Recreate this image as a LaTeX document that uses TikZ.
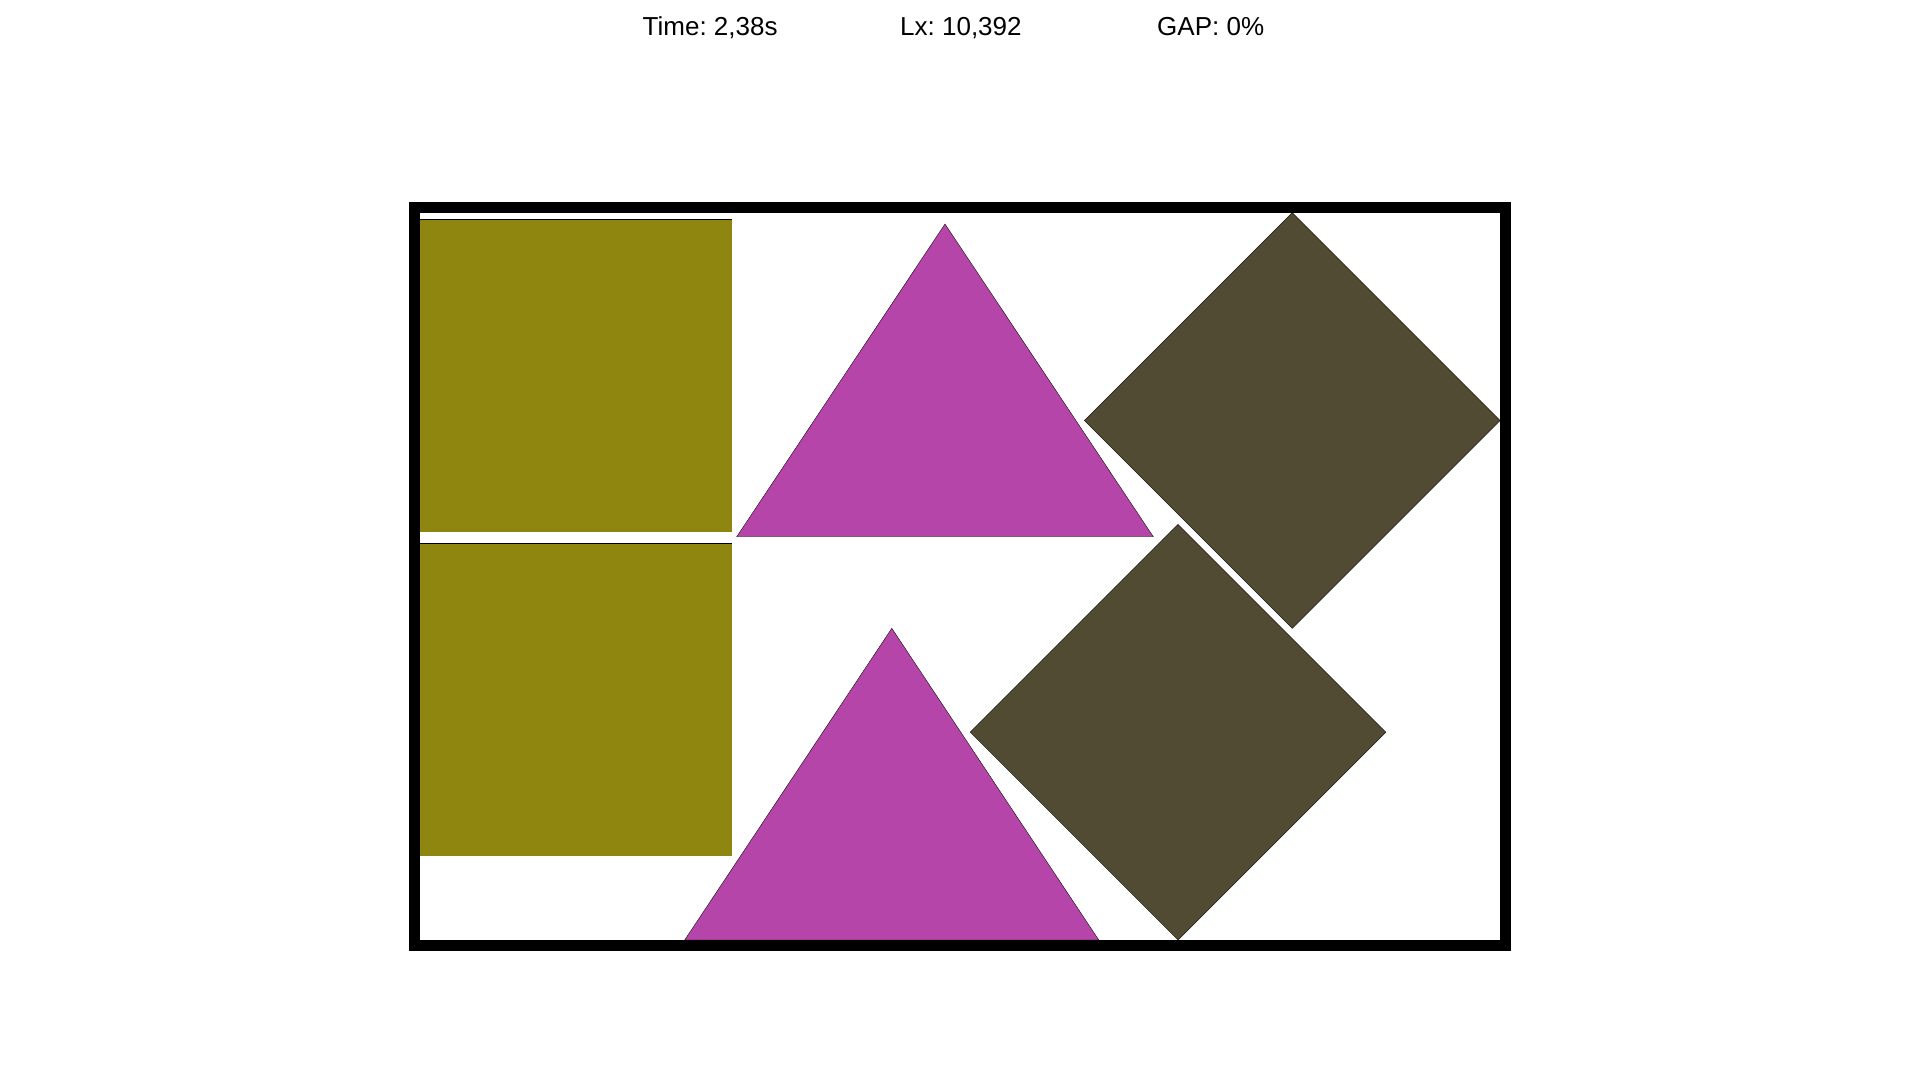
\documentclass[tikz,border=0pt]{standalone}
\usepackage{fontspec}
\setmainfont{Liberation Sans}
\definecolor{olive}{RGB}{143,134,15}
\definecolor{magenta}{RGB}{181,69,168}
\definecolor{darkbox}{RGB}{81,75,51}
\begin{document}
\frenchspacing
\begin{tikzpicture}[x=1pt,y=-1pt,
  piece/.style={draw=black,line width=0.35pt,line join=miter},
  edge/.style={draw=black,line width=1pt},
  label/.style={anchor=base west,inner sep=0pt,font=\fontsize{26}{30}\selectfont}]
\useasboundingbox[fill=white] (0,0) rectangle (1920,1080);
% header texts
\node[label] (time) at (642.5,35) {Time: 2,38s};
\node[label] (lx) at (900,35) {Lx: 10,392};
\node[label] (gap) at (1157,35) {GAP: 0\%};
% squares
\fill[olive] (420,219.3) rectangle (732,531.7);
\draw[edge] (420,219.3) -- (732,219.3);
\fill[olive] (420,543) rectangle (732,856);
\draw[edge] (420,543) -- (732,543);
% triangles
\fill[piece,fill=magenta] (736.7,536.7) -- (1153.3,536.7) -- (945,224) -- cycle;
\fill[piece,fill=magenta] (684.7,940) -- (1098.8,940) -- (891.8,628.3) -- cycle;
% diamonds
\fill[piece,fill=darkbox] (1292.2,212.7) -- (1500,420.5) -- (1292.2,628.3) -- (1084.4,420.5) -- cycle;
\fill[piece,fill=darkbox] (1178,524.4) -- (1385.8,732.2) -- (1178,940) -- (970.2,732.2) -- cycle;
% container frame
\draw[line width=11pt] (414.5,207.5) rectangle (1505.5,945.5);
\end{tikzpicture}
\end{document}
